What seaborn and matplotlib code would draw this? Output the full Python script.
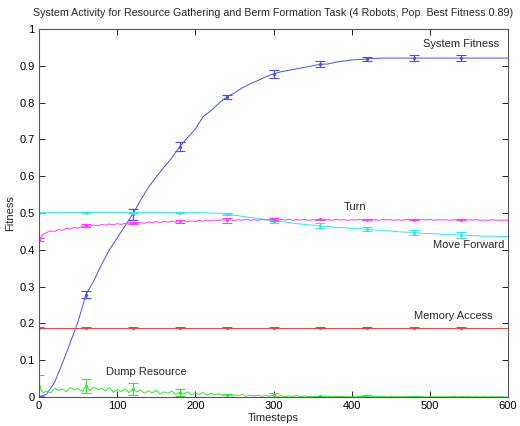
import numpy as np
import pandas as pd
import matplotlib
matplotlib.use("Agg")
import matplotlib.pyplot as plt
import seaborn as sns

# ---------------- data ----------------
t5 = list(range(0, 601, 5))
t10 = list(range(0, 601, 10))
t_err = [0, 60, 120, 180, 240, 300, 360, 420, 480, 540]

turn = [0.427, 0.442, 0.447, 0.451, 0.450, 0.455, 0.453, 0.458, 0.457, 0.461,
        0.459, 0.463, 0.466, 0.464, 0.467, 0.465, 0.469, 0.467, 0.470, 0.468,
        0.471, 0.469, 0.472, 0.470, 0.473, 0.471, 0.474, 0.472, 0.476, 0.473,
        0.477, 0.474, 0.477, 0.475, 0.478, 0.475, 0.477, 0.479, 0.476, 0.479,
        0.477, 0.480, 0.478, 0.481, 0.478, 0.481, 0.479, 0.482, 0.480, 0.482,
        0.479, 0.482, 0.480, 0.483, 0.480, 0.482, 0.480, 0.483, 0.481, 0.483,
        0.482, 0.480, 0.483, 0.481, 0.483, 0.480, 0.482, 0.481, 0.483, 0.480,
        0.482, 0.481, 0.483, 0.480, 0.482, 0.480, 0.483, 0.481, 0.482, 0.480,
        0.482, 0.481, 0.483, 0.480, 0.482, 0.481, 0.482, 0.480, 0.483, 0.481,
        0.482, 0.480, 0.482, 0.480, 0.483, 0.481, 0.482, 0.480, 0.482, 0.481,
        0.483, 0.480, 0.482, 0.481, 0.482, 0.480, 0.482, 0.481, 0.482, 0.480,
        0.482, 0.481, 0.482, 0.480, 0.481, 0.480, 0.482, 0.480, 0.481, 0.480,
        0.481]

dump = [0.030, 0.012, 0.016, 0.011, 0.024, 0.018, 0.022, 0.014, 0.026, 0.019,
        0.023, 0.015, 0.030, 0.017, 0.027, 0.020, 0.024, 0.016, 0.026, 0.013,
        0.020, 0.015, 0.022, 0.012, 0.021, 0.014, 0.019, 0.010, 0.017, 0.011,
        0.018, 0.008, 0.014, 0.010, 0.016, 0.007, 0.013, 0.008, 0.014, 0.006,
        0.011, 0.007, 0.012, 0.005, 0.010, 0.006, 0.009, 0.004, 0.008, 0.003,
        0.006, 0.004, 0.007, 0.002, 0.005, 0.003, 0.005, 0.002, 0.004, 0.002,
        0.005, 0.002, 0.004, 0.001, 0.003, 0.002, 0.004, 0.001, 0.003, 0.001,
        0.002, 0.001, 0.003, 0.001, 0.002, 0.000, 0.002, 0.001, 0.002, 0.000,
        0.001, 0.000, 0.002, 0.001, 0.003, 0.000, 0.002, 0.001, 0.001, 0.000,
        0.002, 0.000, 0.001, 0.000, 0.002, 0.000, 0.001, 0.000, 0.001, 0.000,
        0.001, 0.000, 0.001, 0.000, 0.001, 0.000, 0.002, 0.000, 0.001, 0.000,
        0.001, 0.000, 0.001, 0.000, 0.001, 0.000, 0.001, 0.000, 0.001, 0.000,
        0.000]

fitness = [0.000, 0.008, 0.040, 0.092, 0.148, 0.205, 0.278, 0.315, 0.360, 0.400,
           0.432, 0.465, 0.497, 0.535, 0.570, 0.598, 0.625, 0.650, 0.680, 0.705,
           0.728, 0.762, 0.778, 0.798, 0.815, 0.826, 0.840, 0.851, 0.860, 0.870,
           0.878, 0.884, 0.888, 0.892, 0.896, 0.900, 0.904, 0.905, 0.910, 0.913,
           0.916, 0.917, 0.919, 0.920, 0.921, 0.921, 0.921, 0.921, 0.921, 0.921,
           0.921, 0.921, 0.921, 0.921, 0.921, 0.921, 0.921, 0.921, 0.921, 0.921,
           0.921]

move_fwd = [0.501, 0.501, 0.501, 0.501, 0.501, 0.501, 0.501, 0.501, 0.501, 0.501,
            0.501, 0.501, 0.501, 0.501, 0.501, 0.501, 0.501, 0.501, 0.501, 0.501,
            0.501, 0.501, 0.500, 0.499, 0.497, 0.494, 0.491, 0.488, 0.485, 0.482,
            0.479, 0.477, 0.474, 0.471, 0.469, 0.467, 0.465, 0.463, 0.461, 0.460,
            0.458, 0.457, 0.456, 0.454, 0.452, 0.451, 0.449, 0.448, 0.447, 0.445,
            0.444, 0.443, 0.442, 0.441, 0.440, 0.439, 0.438, 0.437, 0.437, 0.436,
            0.436]

mem_t = [0, 600]
memory = [0.188, 0.188]

# error bars (means and half-widths at t_err)
fit_err_mean = [0.000, 0.278, 0.497, 0.680, 0.815, 0.878, 0.904, 0.919, 0.921, 0.921]
fit_err_half = [0.002, 0.010, 0.015, 0.012, 0.005, 0.010, 0.008, 0.006, 0.007, 0.007]
turn_err_mean = [0.427, 0.466, 0.473, 0.477, 0.480, 0.482, 0.483, 0.482, 0.482, 0.482]
turn_err_half = [0.004, 0.003, 0.003, 0.005, 0.007, 0.004, 0.002, 0.002, 0.002, 0.002]
mf_err_mean = [0.501, 0.501, 0.501, 0.501, 0.497, 0.479, 0.465, 0.456, 0.447, 0.440]
mf_err_half = [0.000, 0.001, 0.002, 0.002, 0.003, 0.006, 0.007, 0.006, 0.006, 0.009]
mem_err_mean = [0.188] * 10
mem_err_half = [0.001] * 10
dump_err_mean = [0.030, 0.030, 0.021, 0.012, 0.005, 0.005, 0.002, 0.003, 0.001, 0.000]
dump_err_half = [0.029, 0.020, 0.016, 0.010, 0.004, 0.006, 0.002, 0.002, 0.001, 0.001]

title = "System Activity for Resource Gathering and Berm Formation Task (4 Robots, Pop. Best Fitness 0.89)"

# ---------------- style ----------------
sns.set_theme(style="ticks")
plt.rcParams["font.family"] = ["Liberation Sans", "DejaVu Sans"]
plt.rcParams["xtick.direction"] = "in"
plt.rcParams["ytick.direction"] = "in"

C_BLUE = "#4a4aff"
C_CYAN = "#2ee8e8"
C_MAG = "#ff3cff"
C_RED = "#ff3a3a"
C_GREEN = "#2de82d"

fig = plt.figure(figsize=(5.2, 4.26), dpi=100)
ax = fig.add_axes([39 / 520, 1 - 397 / 426, 469 / 520, 368 / 426])

series = [
    (t10, fitness, C_BLUE, fit_err_mean, fit_err_half),
    (t10, move_fwd, C_CYAN, mf_err_mean, mf_err_half),
    (t5, turn, C_MAG, turn_err_mean, turn_err_half),
    (mem_t, memory, C_RED, mem_err_mean, mem_err_half),
    (t5, dump, C_GREEN, dump_err_mean, dump_err_half),
]
for xs, ys, col, em, eh in series:
    df = pd.DataFrame({"t": xs, "v": ys})
    sns.lineplot(data=df, x="t", y="v", ax=ax, color=col, linewidth=0.7,
                 estimator=None, sort=False)
    ax.errorbar(t_err, em, yerr=eh, fmt=".", color=col, markersize=2.5,
                elinewidth=0.8, capsize=3.5, capthick=0.8)

ax.set_xlim(0, 600)
ax.set_ylim(0, 1)
ax.set_xticks([0, 100, 200, 300, 400, 500, 600])
ax.set_yticks([i / 10 for i in range(11)])
ax.set_yticklabels(["0", "0.1", "0.2", "0.3", "0.4", "0.5", "0.6", "0.7", "0.8", "0.9", "1"])
ax.tick_params(axis="both", which="both", labelsize=8, length=4, width=0.6,
               top=True, right=True, pad=3, colors="#000000")
for s in ax.spines.values():
    s.set_linewidth(0.8)
    s.set_color("#555555")

ax.set_xlabel("Timesteps", fontsize=8, labelpad=1)
ax.set_ylabel("Fitness", fontsize=8, labelpad=3)
ax.set_title(title, fontsize=7.7, pad=9)

ax.text(540, 0.96, "System Fitness", fontsize=8, ha="center", va="center")
ax.text(404, 0.516, "Turn", fontsize=8, ha="center", va="center")
ax.text(550, 0.412, "Move Forward", fontsize=8, ha="center", va="center")
ax.text(530, 0.221, "Memory Access", fontsize=8, ha="center", va="center")
ax.text(138, 0.069, "Dump Resource", fontsize=8, ha="center", va="center")

fig.savefig("out.png", dpi=100)
